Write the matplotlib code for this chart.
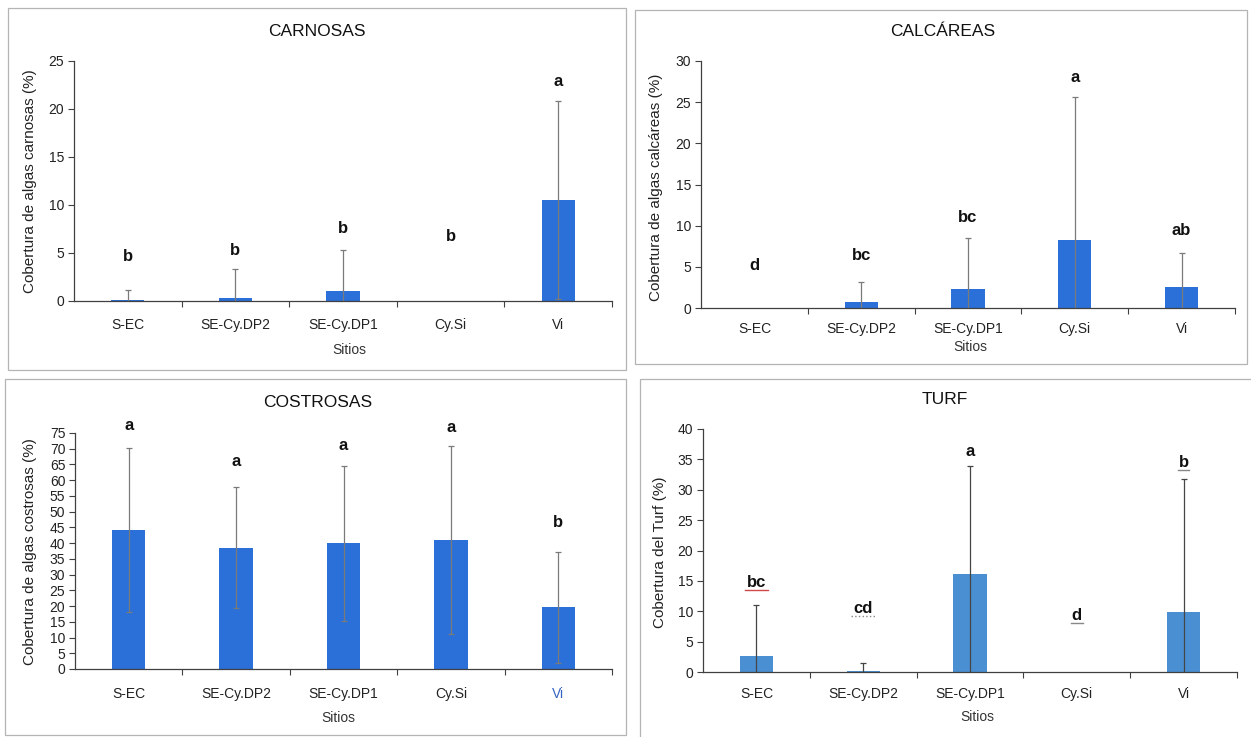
import matplotlib
matplotlib.use("Agg")
import matplotlib.pyplot as plt
import matplotlib.transforms as mtransforms
from matplotlib.patches import Rectangle
import numpy as np

plt.rcParams["font.family"] = ["Liberation Sans", "DejaVu Sans"]

# ---- data -----------------------------------------------------------------
sitios = ["S-EC", "SE-Cy.DP2", "SE-Cy.DP1", "Cy.Si", "Vi"]

carnosas_media = [0.1, 0.35, 1.0, 0.0, 10.5]
carnosas_de = [1.05, 2.95, 4.3, 0.0, 10.3]
carnosas_letras = ["b", "b", "b", "b", "a"]

calcareas_media = [0.0, 0.7, 2.3, 8.3, 2.5]
calcareas_de = [0.0, 2.5, 6.2, 17.3, 4.2]
calcareas_letras = ["d", "bc", "bc", "a", "ab"]

costrosas_media = [44.2, 38.6, 40.0, 41.0, 19.6]
costrosas_de = [26.1, 19.3, 24.6, 29.9, 17.7]
costrosas_letras = ["a", "a", "a", "a", "b"]

turf_media = [2.6, 0.15, 16.2, 0.0, 9.9]
turf_de = [8.4, 1.4, 17.7, 0.0, 21.8]
turf_letras = ["bc", "cd", "a", "d", "b"]

# ---- layout ---------------------------------------------------------------
W, H = 1251, 737
fig = plt.figure(figsize=(W / 100, H / 100), dpi=100)
fig.patch.set_facecolor("white")


def fx(px):
    return px / W


def fy(py):
    return 1 - py / H


def add_box(x0, y0, x1, y1):
    fig.add_artist(Rectangle((fx(x0), fy(y1)), fx(x1 - x0), (y1 - y0) / H,
                             transform=fig.transFigure, fill=False,
                             edgecolor="#b4b4b4", lw=0.9))


def panel(rect, media, de, letras, letra_y, ymax, ystep, title, title_xy,
          ylabel, ylabel_xy, xlabel_xy, bar_color, err_color, tick_pad,
          underline=None, tick_colors=None):
    l, t, r, b = rect
    ax = fig.add_axes([fx(l), fy(b), fx(r - l), (b - t) / H])
    x = np.arange(len(sitios))
    ax.bar(x, media, width=0.31, color=bar_color, zorder=2)
    media = np.asarray(media)
    de = np.asarray(de)
    m = de > 0
    ax.errorbar(x[m], media[m], yerr=de[m], fmt="none", ecolor=err_color,
                elinewidth=0.9, capsize=2.5, capthick=0.9, zorder=3)
    ax.set_xlim(-0.5, 4.5)
    ax.set_ylim(0, ymax)
    ax.set_yticks(np.arange(0, ymax + 0.01, ystep))
    ax.set_xticks(x)
    ax.set_xticklabels(sitios, fontsize=10, color="#222222")
    if tick_colors:
        for lab, c in zip(ax.get_xticklabels(), tick_colors):
            lab.set_color(c)
    ax.set_xticks([0.5, 1.5, 2.5, 3.5, 4.5], minor=True)
    ax.tick_params(axis="x", which="major", length=0, pad=tick_pad)
    ax.tick_params(axis="x", which="minor", length=4, width=0.8,
                   color="#404040", direction="out")
    ax.tick_params(axis="y", length=4, width=0.8, color="#404040",
                   labelsize=10, labelcolor="#222222", pad=3)
    for s in ("top", "right"):
        ax.spines[s].set_visible(False)
    for s in ("left", "bottom"):
        ax.spines[s].set_color("#404040")
        ax.spines[s].set_linewidth(0.9)
    ax.patch.set_alpha(0)

    for i, (lt, ly) in enumerate(zip(letras, letra_y)):
        ax.text(i, ly, lt, ha="center", va="center", fontsize=12,
                fontweight="bold", color="#111111", clip_on=False, zorder=4)
        if underline and underline[i]:
            col, ls = underline[i]
            half = 0.055 * len(lt)
            tr = mtransforms.offset_copy(ax.transData, fig=fig, x=0, y=-7.5,
                                         units="dots")
            ax.plot([i - half, i + half], [ly, ly], color=col, lw=1.0,
                    ls=ls, transform=tr, clip_on=False, zorder=4)

    fig.text(fx(title_xy[0]), fy(title_xy[1]), title, ha="center",
             va="center", fontsize=12.5, color="#111111")
    fig.text(fx(ylabel_xy[0]), fy(ylabel_xy[1]), ylabel, ha="center",
             va="center", rotation=90, fontsize=11, color="#222222")
    fig.text(fx(xlabel_xy[0]), fy(xlabel_xy[1]), "Sitios", ha="center",
             va="center", fontsize=10, color="#333333")
    return ax


# panel frames
add_box(8, 8, 626, 370)
add_box(635, 10, 1247, 364)
add_box(5, 379, 626, 735)
add_box(640, 379, 1256, 742)

blue = "#2b70d8"

panel((74, 61, 612, 301), carnosas_media, carnosas_de, carnosas_letras,
      [4.6, 5.3, 7.6, 6.7, 22.9], 25, 5, "CARNOSAS", (317, 31),
      "Cobertura de algas carnosas (%)", (30, 181), (349, 350),
      blue, "#7a7a7a", 12)

panel((701, 61, 1235, 308), calcareas_media, calcareas_de, calcareas_letras,
      [5.2, 6.4, 11.0, 28.0, 9.4], 30, 5, "CALCÁREAS", (943, 32),
      "Cobertura de algas calcáreas (%)", (656, 187), (970, 347),
      blue, "#7a7a7a", 10)

panel((75, 433, 612, 669), costrosas_media, costrosas_de, costrosas_letras,
      [77.5, 65.9, 71.0, 76.9, 46.4], 75, 5, "COSTROSAS", (318, 403),
      "Cobertura de algas costrosas (%)", (30, 552), (338, 718),
      blue, "#7a7a7a", 13,
      tick_colors=["#222222"] * 4 + ["#3563c4"])

panel((703, 429, 1237, 672), turf_media, turf_de, turf_letras,
      [14.7, 10.4, 36.3, 9.3, 34.5], 40, 5, "TURF", (945, 400),
      "Cobertura del Turf (%)", (660, 552), (977, 717),
      "#4a8fd2", "#454545", 11,
      underline=[("#d04848", "-"), ("#888888", ":"), None,
                 ("#888888", "-"), ("#888888", "-")])

fig.savefig("out.png", dpi=100, facecolor="white")
